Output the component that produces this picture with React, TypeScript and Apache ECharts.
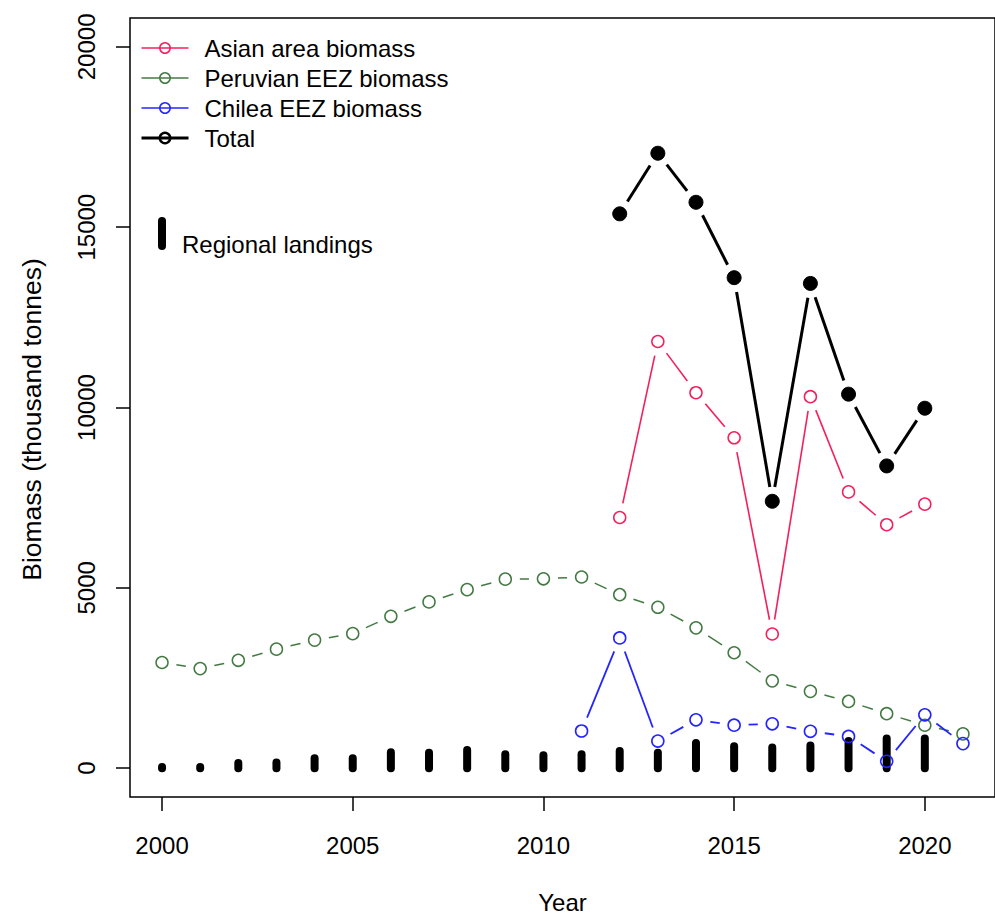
import React, { useEffect, useRef } from "react";
import * as echarts from "echarts";

const years = [2000, 2001, 2002, 2003, 2004, 2005, 2006, 2007, 2008, 2009, 2010, 2011, 2012, 2013, 2014, 2015, 2016, 2017, 2018, 2019, 2020, 2021];
const asianBiomass = [null, null, null, null, null, null, null, null, null, null, null, null, 6950, 11830, 10410, 9160, 3720, 10300, 7660, 6750, 7320, null];
const peruvianBiomass = [2930, 2760, 2990, 3300, 3550, 3730, 4210, 4610, 4950, 5240, 5250, 5300, 4810, 4460, 3890, 3200, 2420, 2130, 1850, 1510, 1190, 950];
const chileBiomass = [null, null, null, null, null, null, null, null, null, null, null, 1030, 3610, 750, 1340, 1190, 1230, 1020, 880, 190, 1480, 680];
const totalBiomass = [null, null, null, null, null, null, null, null, null, null, null, null, 15370, 17050, 15690, 13600, 7400, 13440, 10370, 8380, 9980, null];
const landingYears = [2000, 2001, 2002, 2003, 2004, 2005, 2006, 2007, 2008, 2009, 2010, 2011, 2012, 2013, 2014, 2015, 2016, 2017, 2018, 2019, 2020];
const regionalLandings = [30, 30, 140, 160, 275, 275, 440, 430, 500, 385, 360, 385, 475, 430, 700, 610, 570, 630, 750, 820, 820];
const xTicks = [2000, 2005, 2010, 2015, 2020];
const yTicks = [0, 5000, 10000, 15000, 20000];

const FONT = "'Liberation Sans', Arial, Helvetica, sans-serif";
const RED = "#f2205c";
const GREEN = "#437a43";
const BLUE = "#2424ff";
const BLACK = "#000000";

const points = (vals: (number | null)[]) =>
  years.map((y, i) => [y, vals[i]]).filter((p) => p[1] !== null);

const segments = (vals: (number | null)[]) => {
  const out: number[][] = [];
  for (let i = 0; i < years.length - 1; i++) {
    if (vals[i] !== null && vals[i + 1] !== null) {
      out.push([years[i], vals[i] as number, years[i + 1], vals[i + 1] as number]);
    }
  }
  return out;
};

const segRender = (color: string, width: number, gap: number) => (params: any, api: any) => {
  const p1 = api.coord([api.value(0), api.value(1)]);
  const p2 = api.coord([api.value(2), api.value(3)]);
  const dx = p2[0] - p1[0];
  const dy = p2[1] - p1[1];
  const len = Math.hypot(dx, dy);
  if (len <= 2 * gap) return { type: "group", children: [] };
  const ux = dx / len;
  const uy = dy / len;
  return {
    type: "line",
    silent: true,
    shape: { x1: p1[0] + ux * gap, y1: p1[1] + uy * gap, x2: p2[0] - ux * gap, y2: p2[1] - uy * gap },
    style: { stroke: color, lineWidth: width, fill: null },
  };
};

const segSeries = (name: string, vals: (number | null)[], color: string, width: number, gap: number) => ({
  type: "custom",
  name: name + "-lines",
  renderItem: segRender(color, width, gap),
  data: segments(vals),
  encode: { x: [0, 2], y: [1, 3] },
  silent: true,
  z: 3,
});

const markerSeries = (name: string, vals: (number | null)[], color: string, size: number, filled: boolean, bw: number) => ({
  type: "line",
  name,
  data: points(vals),
  symbol: "circle",
  symbolSize: size,
  showSymbol: true,
  lineStyle: { color, width: 0, opacity: 0 },
  itemStyle: { color: filled ? color : "rgba(255,255,255,0)", borderColor: color, borderWidth: bw },
  emphasis: { disabled: true },
  silent: true,
  z: 4,
});

export default function App() {
  const ref = useRef<HTMLDivElement>(null);
  useEffect(() => {
    if (!ref.current) return;
    const chart = echarts.init(ref.current, null, { renderer: "svg" });
    chart.setOption({
      animation: false,
      backgroundColor: "#ffffff",
      textStyle: { fontFamily: FONT },
      grid: { left: 130, right: -11, top: 18, bottom: 117, show: true, borderColor: "#000", borderWidth: 1.5, backgroundColor: "transparent" },
      xAxis: {
        type: "value",
        min: 1999.16,
        max: 2021.84,
        name: "Year",
        nameLocation: "middle",
        nameGap: 93,
        nameTextStyle: { fontSize: 24, color: "#000", fontFamily: FONT },
        axisLine: { show: false, onZero: false },
        splitLine: { show: false },
        axisTick: { show: true, length: 14, lineStyle: { color: "#000", width: 1.5 }, customValues: xTicks },
        axisLabel: { fontSize: 24, color: "#000", margin: 36, fontFamily: FONT, customValues: xTicks, formatter: (v: number) => String(v) },
      },
      yAxis: {
        type: "value",
        min: -800,
        max: 20800,
        name: "Biomass (thousand tonnes)",
        nameLocation: "middle",
        nameGap: 85,
        nameTextStyle: { fontSize: 26.5, color: "#000", fontFamily: FONT, padding: [0, 24, 0, 0] },
        axisLine: { show: false, onZero: false },
        splitLine: { show: false },
        axisTick: { show: true, length: 14, lineStyle: { color: "#000", width: 1.5 }, customValues: yTicks },
        axisLabel: { fontSize: 24, color: "#000", margin: 32, rotate: 90, fontFamily: FONT, customValues: yTicks, formatter: (v: number) => String(v) },
      },
      legend: {
        orient: "vertical",
        left: 135,
        top: 31,
        itemWidth: 47,
        itemHeight: 13,
        itemGap: 6,
        selectedMode: false,
        textStyle: { fontSize: 24, color: "#000", fontFamily: FONT, lineHeight: 24, padding: [0, 0, 0, 11] },
        data: [
          { name: "Asian area biomass", itemStyle: { color: "rgba(255,255,255,0)", borderColor: RED, borderWidth: 1.5 }, lineStyle: { color: RED, width: 1.5, opacity: 1 } },
          { name: "Peruvian EEZ biomass", itemStyle: { color: "rgba(255,255,255,0)", borderColor: GREEN, borderWidth: 1.5 }, lineStyle: { color: GREEN, width: 1.5, opacity: 1 } },
          { name: "Chilea EEZ biomass", itemStyle: { color: "rgba(255,255,255,0)", borderColor: BLUE, borderWidth: 1.5 }, lineStyle: { color: BLUE, width: 1.5, opacity: 1 } },
          { name: "Total", itemStyle: { color: "rgba(255,255,255,0)", borderColor: BLACK, borderWidth: 2.5 }, lineStyle: { color: BLACK, width: 3, opacity: 1 } },
        ],
      },
      graphic: [
        { type: "line", shape: { x1: 162, y1: 221, x2: 162, y2: 246 }, style: { stroke: "#000", lineWidth: 8, lineCap: "round" }, silent: true },
        { type: "text", x: 182, y: 244, style: { text: "Regional landings", fontSize: 24, fontFamily: FONT, fill: "#000", verticalAlign: "middle", textAlign: "left" }, silent: true },
      ],
      series: [
        {
          type: "custom",
          name: "Regional landings",
          data: landingYears.map((y, i) => [y, regionalLandings[i]]),
          encode: { x: 0, y: 1 },
          silent: true,
          z: 2,
          renderItem: (params: any, api: any) => {
            const a = api.coord([api.value(0), 0]);
            const b = api.coord([api.value(0), api.value(1)]);
            return { type: "line", shape: { x1: a[0], y1: a[1], x2: b[0], y2: b[1] }, style: { stroke: "#000", lineWidth: 8, lineCap: "round" } };
          },
        },
        segSeries("Peruvian EEZ biomass", peruvianBiomass, GREEN, 1.5, 14.5),
        segSeries("Asian area biomass", asianBiomass, RED, 1.6, 14.5),
        segSeries("Chilea EEZ biomass", chileBiomass, BLUE, 1.8, 14.5),
        segSeries("Total", totalBiomass, BLACK, 3, 14.5),
        markerSeries("Peruvian EEZ biomass", peruvianBiomass, GREEN, 12, false, 1.5),
        markerSeries("Asian area biomass", asianBiomass, RED, 12, false, 1.5),
        markerSeries("Chilea EEZ biomass", chileBiomass, BLUE, 12, false, 1.6),
        markerSeries("Total", totalBiomass, BLACK, 14, true, 1),
      ],
    });
    return () => chart.dispose();
  }, []);
  return <div ref={ref} style={{ position: "fixed", left: 0, top: 0, width: 995, height: 919 }} />;
}
